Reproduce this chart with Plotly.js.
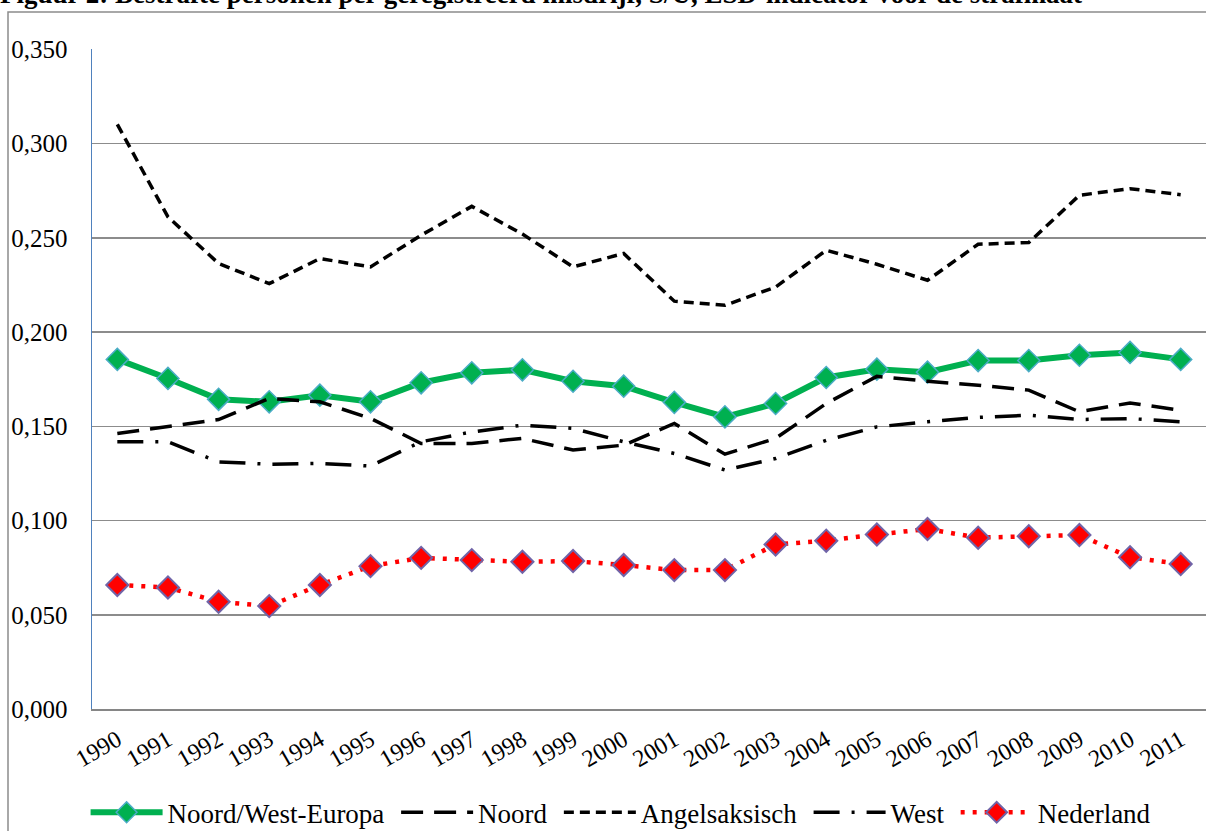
<!DOCTYPE html>
<html>
<head>
<meta charset="utf-8">
<script src="https://cdn.plot.ly/plotly-3.0.1.min.js"></script>
<style>
  html, body { margin: 0; padding: 0; background: #ffffff; }
  #chart { width: 1206px; height: 831px; }
</style>
</head>
<body>
<div id="chart"></div>
<script>
const years = ['1990','1991','1992','1993','1994','1995','1996','1997','1998','1999','2000',
               '2001','2002','2003','2004','2005','2006','2007','2008','2009','2010','2011'];
const noordWestEuropa = [0.1855,0.1754,0.1643,0.1630,0.1665,0.1630,0.1731,0.1784,0.1800,0.1739,0.1713,
                         0.1627,0.1550,0.1621,0.1759,0.1803,0.1787,0.1849,0.1849,0.1877,0.1892,0.1855];
const noord = [0.1462,0.1500,0.1536,0.1648,0.1630,0.1542,0.1409,0.1409,0.1436,0.1374,0.1400,
               0.1515,0.1352,0.1436,0.1621,0.1765,0.1739,0.1718,0.1692,0.1577,0.1624,0.1585];
const angelsaksisch = [0.3102,0.2611,0.2364,0.2257,0.2390,0.2346,0.2514,0.2667,0.2520,0.2346,0.2417,
                       0.2164,0.2142,0.2239,0.2434,0.2360,0.2275,0.2466,0.2475,0.2726,0.2761,0.2729];
const west = [0.1418,0.1418,0.1311,0.1299,0.1303,0.1289,0.1418,0.1470,0.1506,0.1489,0.1418,
              0.1356,0.1268,0.1329,0.1426,0.1497,0.1524,0.1547,0.1559,0.1536,0.1541,0.1524];
const nederland = [0.0658,0.0645,0.0569,0.0546,0.0658,0.0758,0.0802,0.0790,0.0781,0.0785,0.0764,
                   0.0737,0.0737,0.0873,0.0893,0.0926,0.0955,0.0909,0.0917,0.0923,0.0805,0.0769];
const seriesNames = ['Noord/West-Europa', 'Noord', 'Angelsaksisch', 'West', 'Nederland'];
const titleText = 'Figuur 2: Bestrafte personen per geregistreerd misdrijf, S/U, ESD-indicator voor de strafmaat';

const serif = '"Liberation Serif", "DejaVu Serif", serif';
const pad = '\u00a0';

const traces = [
  { x: years, y: noordWestEuropa, name: seriesNames[0] + pad, type: 'scatter', mode: 'lines+markers',
    line: { color: '#00B050', width: 6 },
    marker: { symbol: 'diamond', size: 17, color: '#00B050', line: { color: '#4BACC6', width: 1.5 } } },
  { x: years, y: noord, name: seriesNames[1] + pad, type: 'scatter', mode: 'lines',
    line: { color: '#000000', width: 3.5, dash: '22px,11px' } },
  { x: years, y: angelsaksisch, name: seriesNames[2] + pad, type: 'scatter', mode: 'lines',
    line: { color: '#000000', width: 3.5, dash: '10px,6px' } },
  { x: years, y: west, name: seriesNames[3] + pad, type: 'scatter', mode: 'lines',
    line: { color: '#000000', width: 3.5, dash: '26px,12px,3px,12px' } },
  { x: years, y: nederland, name: seriesNames[4], type: 'scatter', mode: 'lines+markers',
    line: { color: '#FF0000', width: 4.5, dash: '4px,8px' },
    marker: { symbol: 'diamond', size: 17, color: '#FF0000', line: { color: '#7064A8', width: 2 } } }
];

const layout = {
  width: 1206, height: 831,
  margin: { l: 92, r: 0, t: 49, b: 122 },
  paper_bgcolor: '#ffffff', plot_bgcolor: '#ffffff',
  separators: ',.',
  font: { family: serif, color: '#000000' },
  showlegend: true,
  legend: {
    orientation: 'h', xref: 'container', yref: 'container',
    x: 0.515, xanchor: 'center', y: 0.022, yanchor: 'middle',
    font: { family: serif, size: 27, color: '#000000' },
    itemwidth: 72, bgcolor: 'rgba(0,0,0,0)'
  },
  xaxis: {
    type: 'category', range: [-0.5, 21.5],
    showgrid: false, zeroline: false,
    showline: true, linecolor: '#868686', linewidth: 1.5,
    ticks: '', tickangle: -30,
    tickfont: { family: serif, size: 24, color: '#000000' },
    ticklabelstandoff: 6
  },
  yaxis: {
    range: [0, 0.3502], dtick: 0.05, tick0: 0, tickformat: '.3f',
    showgrid: true, gridcolor: '#8C8C8C', gridwidth: 1.5,
    zeroline: false,
    showline: true, linecolor: '#4F81BD', linewidth: 1.5,
    ticks: '', ticklabelstandoff: 18,
    tickfont: { family: serif, size: 25, color: '#000000' }
  },
  shapes: [
    { type: 'rect', xref: 'paper', yref: 'paper', layer: 'below',
      x0: (8 - 92) / 1114, x1: 1.02, y0: -0.3, y1: (709 - 12) / 660,
      line: { color: '#8C8C8C', width: 1.5 }, fillcolor: 'rgba(0,0,0,0)' }
  ],
  annotations: [
    { text: '<b>' + titleText + '</b>', xref: 'paper', yref: 'paper',
      x: (-2 - 92) / 1114, xanchor: 'left', y: (709 + 6) / 660, yanchor: 'middle',
      showarrow: false, font: { family: serif, size: 27, color: '#000000' } }
  ]
};

Plotly.newPlot('chart', traces, layout, { displayModeBar: false, staticPlot: true });
</script>
</body>
</html>
